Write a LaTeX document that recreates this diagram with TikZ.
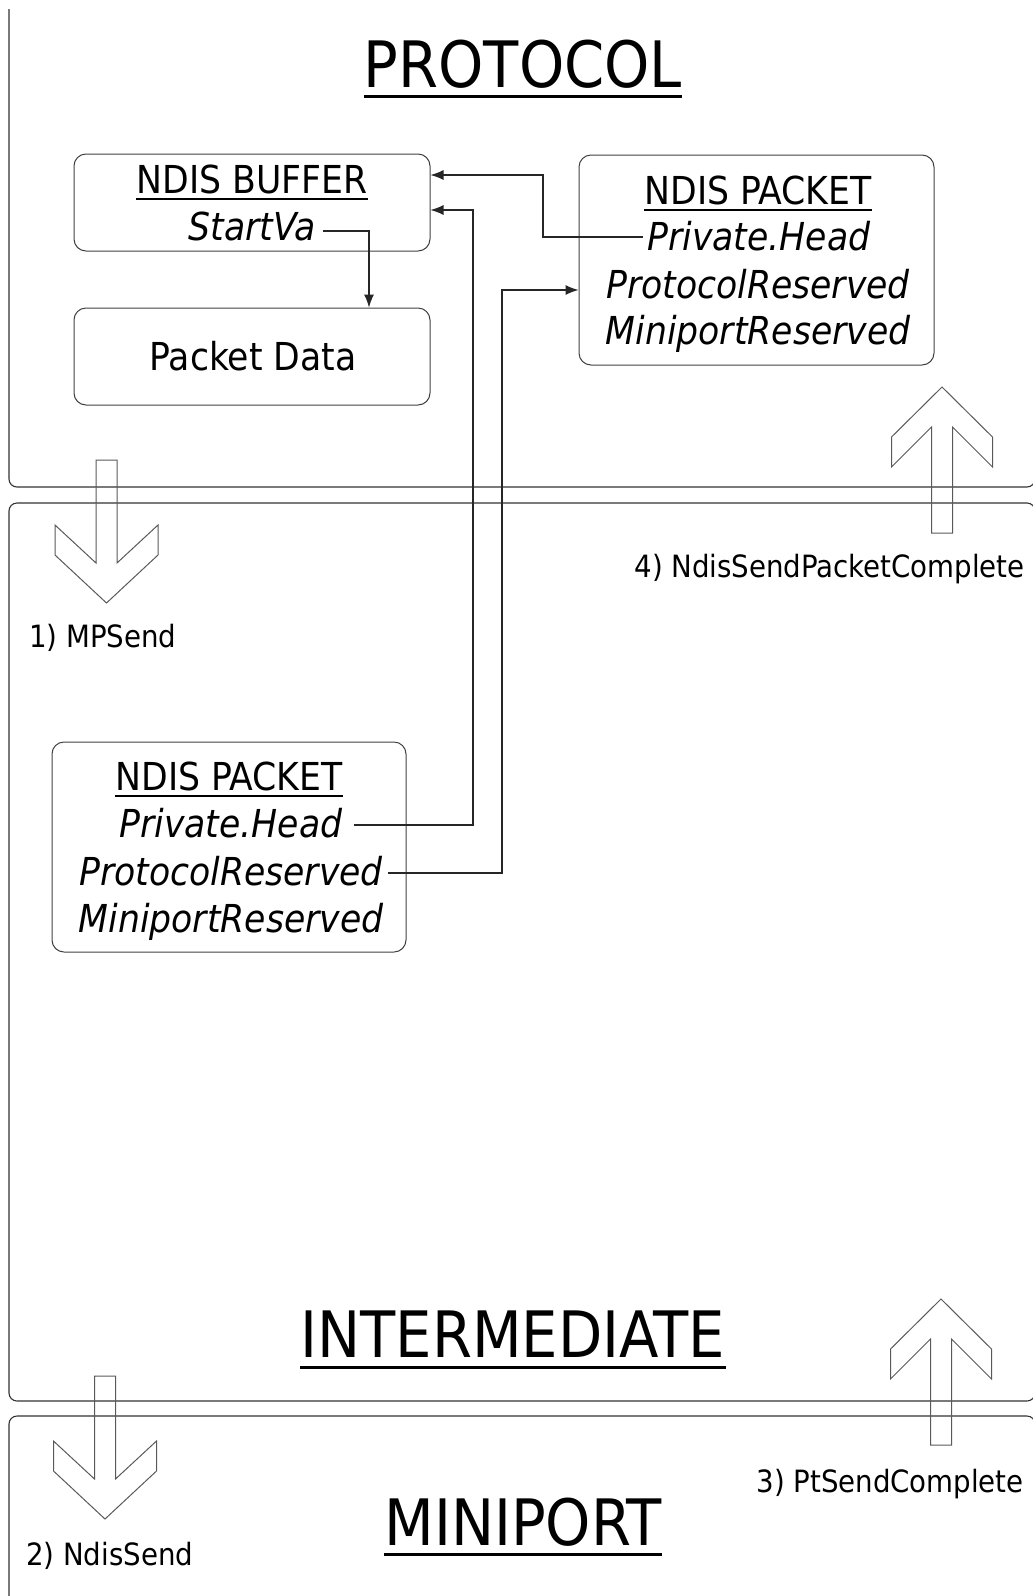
\documentclass[tikz,border=0pt]{standalone}
\usepackage{fontspec}
\setmainfont{DejaVu Sans Condensed}[ItalicFont={DejaVu Sans Condensed Oblique}]
\usetikzlibrary{arrows.meta}
\begin{document}
\begin{tikzpicture}[x=1pt,y=-1pt,
  region/.style={draw=black!80, line width=1.1pt, rounded corners=8pt},
  box/.style={draw=black!75, line width=1pt, rounded corners=12pt, inner sep=0pt},
  blk/.style={draw=black!65, line width=1pt, line join=miter},
  conn/.style={draw=black!85, line width=1.1pt},
  arr/.style={-{Latex[length=13pt,width=10pt]}},
  txt/.style={inner sep=0pt, anchor=base},
  lbl/.style={inner sep=0pt, font=\fontsize{30.7}{36}\selectfont},
  bt/.style={txt, font=\fontsize{38.5}{46}\selectfont},
  bti/.style={txt, font=\fontsize{38.5}{46}\selectfont\itshape},
  ttl/.style={txt, font=\fontsize{64}{76}\selectfont},
  ulthin/.style={draw=black, line width=1.6pt},
  ulthick/.style={draw=black, line width=3pt},
  pics/blkdown/.style={code={
    \draw[blk] (-10.5,0) -- (-10.5,103) -- (-51.5,65) -- (-51.5,95) -- (0,143)
      -- (51.5,95) -- (51.5,65) -- (10.5,103) -- (10.5,0) -- cycle;}},
  pics/blkup/.style={code={
    \draw[blk] (0,0) -- (50.5,50) -- (50.5,80) -- (10.5,40) -- (10.5,146)
      -- (-10.5,146) -- (-10.5,40) -- (-50.5,80) -- (-50.5,50) -- cycle;}},
]
\useasboundingbox (0,0) rectangle (1033,1596);
\clip (0,0) rectangle (1033,1596);

% layer regions
\draw[region] (9,9) -- (9,487) -- (1035,487) -- (1035,9);
\draw[region] (9,503) rectangle (1035,1401);
\draw[region] (9,1630) -- (9,1416) -- (1035,1416) -- (1035,1630);

% titles
\node[ttl] (tprot) at (523,87) {PROTOCOL};
\draw[ulthick] ([yshift=-9pt]tprot.base west) -- ([yshift=-9pt]tprot.base east);
\node[ttl] (tint) at (513,1357) {INTERMEDIATE};
\draw[ulthick] ([yshift=-10pt]tint.base west) -- ([yshift=-10pt]tint.base east);
\node[ttl] (tmin) at (523,1545) {MINIPORT};
\draw[ulthick] ([yshift=-9pt]tmin.base west) -- ([yshift=-9pt]tmin.base east);

% NDIS buffer and packet data
\node[box, minimum width=356pt, minimum height=97pt] (buf) at (252,202.5) {};
\node[bt] (tbuf) at (252,193) {NDIS BUFFER};
\draw[ulthin] ([yshift=-6pt]tbuf.base west) -- ([yshift=-6pt]tbuf.base east);
\node[bti] (sva) at (252,240) {StartVa};
\node[box, minimum width=356pt, minimum height=97pt] (pd) at (252,356.5) {};
\node[bt] (tpd) at (253,370) {Packet Data};

% right NDIS packet
\node[box, minimum width=355pt, minimum height=210pt] (rpk) at (756.5,260) {};
\node[bt] (rpkh) at (758,204) {NDIS PACKET};
\draw[ulthin] ([yshift=-6pt]rpkh.base west) -- ([yshift=-6pt]rpkh.base east);
\node[bti] (rph) at (759,250) {Private.Head};
\node[bti] (rpr) at (758,298) {ProtocolReserved};
\node[bti] (rmr) at (758,344) {MiniportReserved};

% left NDIS packet
\node[box, minimum width=354pt, minimum height=210pt] (lpk) at (229,847) {};
\node[bt] (lpkh) at (229,790) {NDIS PACKET};
\draw[ulthin] ([yshift=-6pt]lpkh.base west) -- ([yshift=-6pt]lpkh.base east);
\node[bti] (lph) at (231,837) {Private.Head};
\node[bti] (lpr) at (231,885) {ProtocolReserved};
\node[bti] (lmr) at (231,932) {MiniportReserved};

% connectors
\coordinate (svs) at (323,231);
\draw[conn,arr] (svs) -| (pd.north -| 369,0);
\coordinate (rphs) at (643,237);
\draw[conn,arr] (rphs) -- (543,237) |- (buf.east |- 0,175);
\coordinate (lphs) at (354,825);
\draw[conn,arr] (lphs) -- (473,825) |- (buf.east |- 0,210);
\coordinate (lprs) at (388,873);
\draw[conn,arr] (lprs) -- (502,873) |- (rpk.west |- 0,290);

% block arrows
\pic at (106.5,460) {blkdown};
\pic at (105,1376) {blkdown};
\pic at (942,387) {blkup};
\pic at (941,1299) {blkup};

% labels
\node[lbl, anchor=base west] (l1) at (29,647) {1) MPSend};
\node[lbl, anchor=base east] (l4) at (1025,577) {4) NdisSendPacketComplete};
\node[lbl, anchor=base east] (l3) at (1024,1492) {3) PtSendComplete};
\node[lbl, anchor=base west] (l2) at (26,1565) {2) NdisSend};
\end{tikzpicture}
\end{document}
